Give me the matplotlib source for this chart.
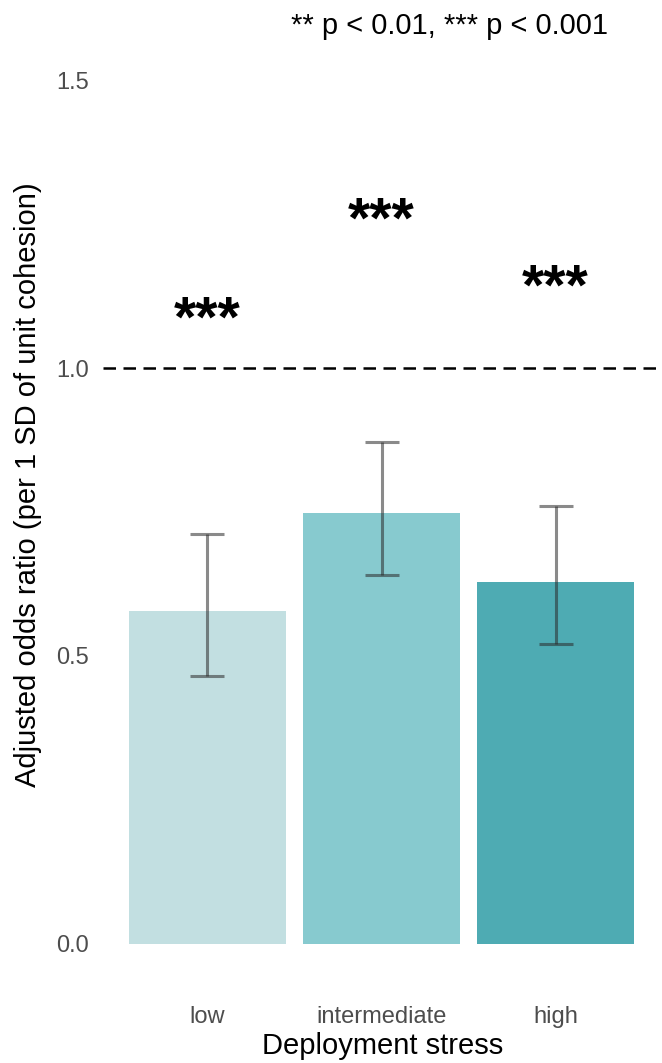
import matplotlib.pyplot as plt
import numpy as np

plt.rcParams.update({
    "font.family": ["Liberation Sans", "DejaVu Sans"],
    "figure.dpi": 100,
})

# adjusted odds ratios by deployment stress level, with 95% CI
stress = ["low", "intermediate", "high"]
odds_ratio = [0.578, 0.748, 0.628]
ci_low = [0.465, 0.641, 0.521]
ci_high = [0.712, 0.872, 0.760]
sig_labels = ["***", "***", "***"]
sig_y = [1.08, 1.252, 1.136]
bar_colors = ["#c2dfe1", "#87cacf", "#4eabb3"]

W, H = 662, 1063
fig = plt.figure(figsize=(W / 100, H / 100), dpi=100)
ax = fig.add_axes([103 / W, (H - 987) / H, 557 / W, 950 / H])

x = np.arange(1, len(stress) + 1)
or_arr = np.array(odds_ratio)
yerr = [or_arr - np.array(ci_low), np.array(ci_high) - or_arr]

ax.bar(x, odds_ratio, width=0.9, color=bar_colors, zorder=2)
ax.errorbar(x, odds_ratio, yerr=yerr, fmt="none", ecolor="#2b2b2b",
            elinewidth=2.2, capsize=12, capthick=2.2, alpha=0.55, zorder=3)
ax.axhline(1.0, color="black", lw=1.8, linestyle=(0, (5, 3)), zorder=1)

for xi, lab, yi in zip(x, sig_labels, sig_y):
    ax.text(xi, yi, lab, ha="center", va="center", fontsize=41,
            fontweight="bold", color="black")

ax.set_xlim(0.4, 3.6)
ax.set_ylim(-0.075, 1.575)
ax.set_yticks([0.0, 0.5, 1.0, 1.5])
ax.set_yticklabels(["0.0", "0.5", "1.0", "1.5"])
ax.set_xticks(x)
ax.set_xticklabels(stress)
ax.tick_params(axis="both", length=0, labelsize=17, labelcolor="#4d4d4d")
ax.tick_params(axis="y", pad=10)
ax.tick_params(axis="x", pad=14)
for s in ax.spines.values():
    s.set_visible(False)

fig.text(608 / W, 1 - 26 / H, "** p < 0.01, *** p < 0.001", ha="right",
         va="center", fontsize=21, color="black")
fig.text(383 / W, 1 - 1046 / H, "Deployment stress", ha="center",
         va="center", fontsize=21, color="black")
fig.text(28 / W, 1 - 485 / H,
         "Adjusted odds ratio (per 1 SD of unit cohesion)",
         ha="center", va="center", rotation=90, fontsize=21, color="black")

fig.savefig("out.png", dpi=100)
